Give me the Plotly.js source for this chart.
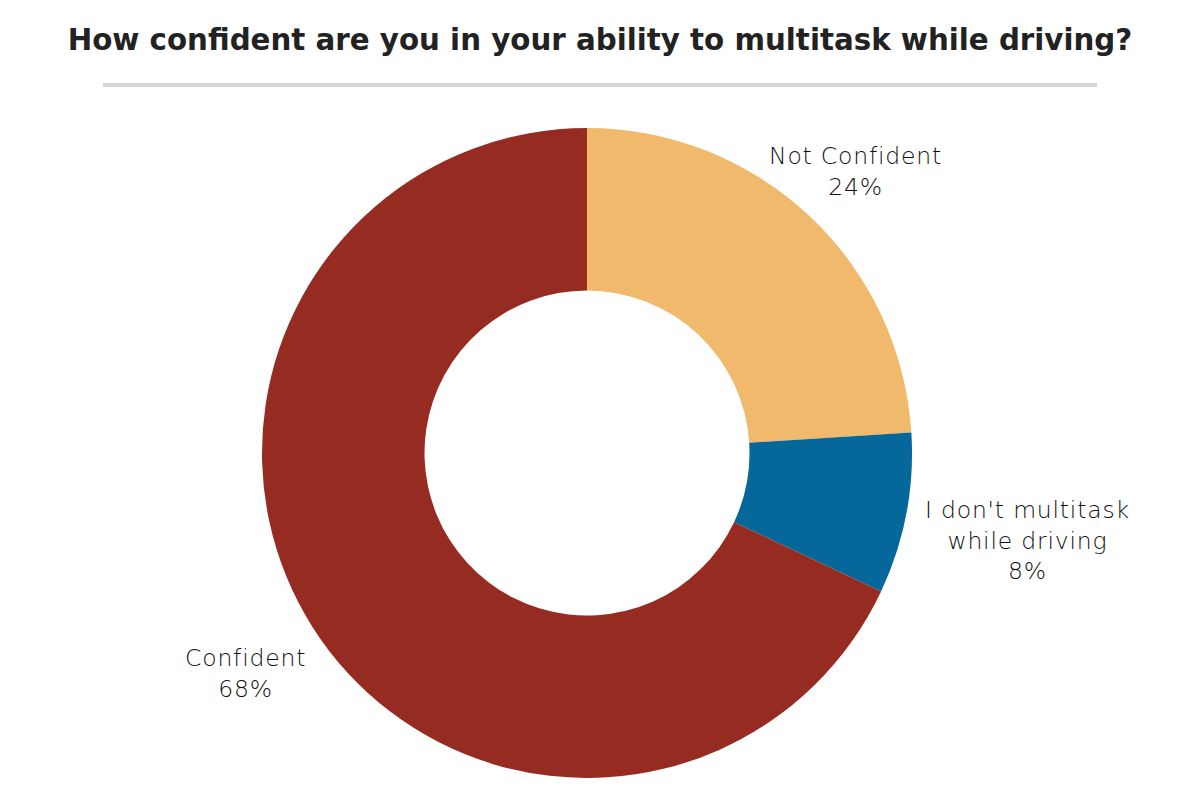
<!DOCTYPE html>
<html>
<head>
<meta charset="utf-8">
<script src="https://cdn.plot.ly/plotly-3.0.1.min.js"></script>
<style>html,body{margin:0;padding:0;background:#fff;}#chart{width:1200px;height:800px;}
.annotation-text{letter-spacing:0.8px;}</style>
</head>
<body>
<div id="chart"></div>
<script>
const categories = ["Not Confident", "I don't multitask while driving", "Confident"];
const labelLines = ["Not Confident", "I don't multitask<br>while driving", "Confident"];
const values = [24, 8, 68];
const colors = ["#F0B96B", "#05679A", "#962B21"];
const titleText = "How confident are you in your ability to multitask while driving?";

const labelPos = [
  {x: 855, y: 172},
  {x: 1027, y: 540},
  {x: 245, y: 673}
];

const annotations = categories.map((c, i) => ({
  xref: 'paper', yref: 'paper',
  x: labelPos[i].x / 1200, y: 1 - labelPos[i].y / 800,
  xanchor: 'center', yanchor: 'middle',
  text: labelLines[i] + '<br>' + values[i] + '%',
  showarrow: false, align: 'center',
  font: {family: '"DejaVu Sans", sans-serif', size: 23.5, weight: 300, color: '#111'}
}));

const trace = {
  type: 'pie',
  labels: categories,
  values: values,
  hole: 0.5,
  sort: false,
  direction: 'clockwise',
  rotation: 0,
  marker: {colors: colors, line: {color: '#ffffff', width: 0}},
  textinfo: 'none',
  hoverinfo: 'label+percent',
  domain: {x: [587/1200 - 325/1200, 587/1200 + 325/1200], y: [1 - 778/800, 1 - 128/800]},
  showlegend: false
};

const layout = {
  width: 1200, height: 800,
  margin: {l: 0, r: 0, t: 0, b: 0},
  paper_bgcolor: '#ffffff',
  title: {
    text: '<b>' + titleText + '</b>',
    x: 0.5, xanchor: 'center', y: 1 - 40/800, yanchor: 'middle',
    font: {family: '"DejaVu Sans", sans-serif', size: 29.3, color: '#222'}
  },
  shapes: [{
    type: 'line', xref: 'paper', yref: 'paper',
    x0: 103/1200, x1: 1097/1200, y0: 1 - 85/800, y1: 1 - 85/800,
    line: {color: '#d6d6d6', width: 4}
  }],
  annotations: annotations
};

Plotly.newPlot('chart', [trace], layout, {displayModeBar: false, staticPlot: true});
</script>
</body>
</html>
